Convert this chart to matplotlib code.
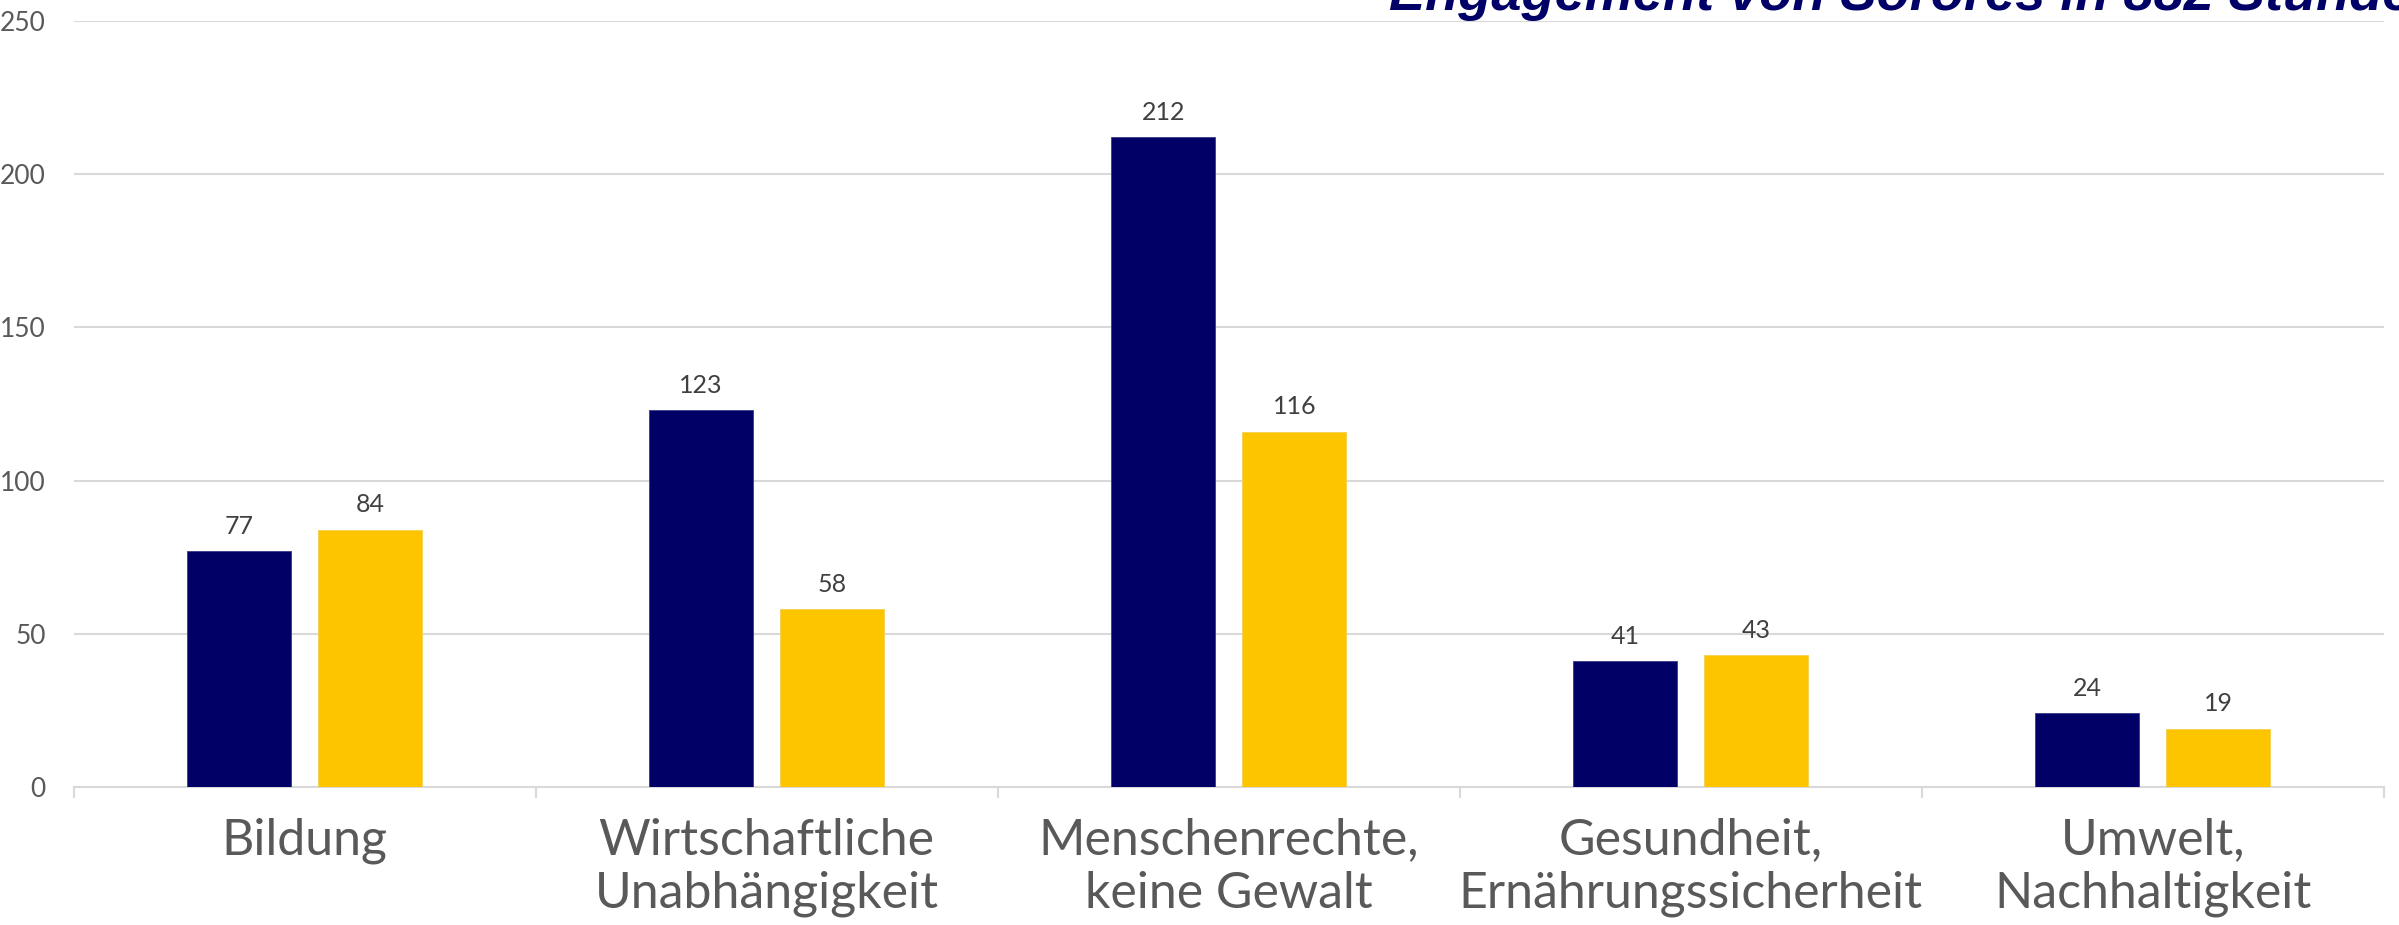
import matplotlib
matplotlib.use("Agg")
import matplotlib.pyplot as plt
import numpy as np

categories = ["Bildung", "Wirtschaftliche\nUnabhängigkeit", "Menschenrechte,\nkeine Gewalt",
              "Gesundheit,\nErnährungssicherheit", "Umwelt,\nNachhaltigkeit"]
series_a = [77, 123, 212, 41, 24]
series_b = [84, 58, 116, 43, 19]
yticks = [0, 50, 100, 150, 200, 250]
title = "Engagement von Sorores in 882 Stunden"

W, H = 2399, 925
fig = plt.figure(figsize=(W / 100, H / 100), dpi=100)
ax = fig.add_axes([73.5 / W, 1 - 787 / H, (2384 - 73.5) / W, (787 - 21) / H])

x = np.arange(len(categories))
bw = 0.225
off = 0.1418
navy = "#000066"
gold = "#FDC500"
b1 = ax.bar(x - off, series_a, bw, color=navy, edgecolor="#3a3a8a", linewidth=0.6, zorder=3)
b2 = ax.bar(x + off, series_b, bw, color=gold, edgecolor="#f5d050", linewidth=0.6, zorder=3)

fam = ["Lato", "DejaVu Sans"]
for bars, vals in ((b1, series_a), (b2, series_b)):
    for r, v in zip(bars, vals):
        ax.annotate(str(v), (r.get_x() + r.get_width() / 2, v), xytext=(0, 12.5),
                    textcoords="offset points", ha="center", va="baseline",
                    fontsize=18, color="#404040", family=fam)

ax.set_xlim(-0.5, len(categories) - 0.5)
ax.set_ylim(0, 250)
ax.set_yticks(yticks)
ax.set_yticklabels([str(t) for t in yticks], family=fam, fontsize=19, color="#595959")
ax.tick_params(axis="y", length=0, pad=20)

ax.set_xticks(x)
ax.set_xticklabels(categories, family=fam, fontsize=36, color="#595959", linespacing=1.2)
ax.set_xticks(np.arange(len(categories) + 1) - 0.5, minor=True)
ax.tick_params(axis="x", which="major", length=0, pad=22)
ax.tick_params(axis="x", which="minor", length=8, width=1.5, color="#d9d9d9", direction="out")

ax.grid(axis="y", color="#d9d9d9", linewidth=1.5, zorder=0)
ax.set_axisbelow(True)
for s in ("left", "right", "top"):
    ax.spines[s].set_visible(False)
ax.spines["bottom"].set_color("#d9d9d9")
ax.spines["bottom"].set_linewidth(1.5)

fig.text(1389 / W, 1 - 10 / H, title, ha="left", va="baseline", fontsize=39,
         fontweight="bold", fontstyle="italic", color=navy, family="Liberation Sans")

fig.savefig("out.png", dpi=100, facecolor="white")
